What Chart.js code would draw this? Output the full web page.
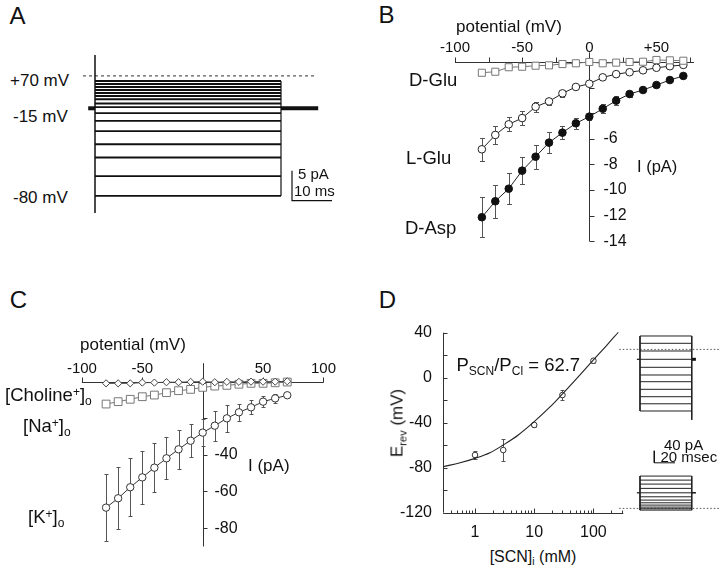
<!DOCTYPE html>
<html>
<head>
<meta charset="utf-8">
<script src="https://cdn.jsdelivr.net/npm/chart.js@4.4.1/dist/chart.umd.min.js"></script>
<style>
  html, body { margin: 0; padding: 0; background: #fff; }
  #fig { position: relative; width: 720px; height: 571px; overflow: hidden;
         font-family: "Liberation Sans", Arial, Helvetica, sans-serif; color: #111; }
  #fig canvas { position: absolute; }
  .t { position: absolute; white-space: nowrap; line-height: 1; }
  .sub { font-size: 65%; position: relative; top: 0.35em; }
  .sup { font-size: 65%; position: relative; top: -0.45em; }
</style>
</head>
<body>
<div id="fig"></div>
<script>
// ---- panel A: current traces (ms, pA), steps -80..+70 mV from -15 mV holding
const aSteps = [-80, -70, -60, -50, -40, -30, -20, -10, 0, 10, 20, 30, 40, 50, 60, 70];
const aLevels = [-14.6, -11.3, -8.2, -6.0, -3.8, -2.1, -0.8, 0.2, 0.8, 1.5, 2.05, 2.55, 3.05, 3.55, 4.05, 4.55];
const aPulseEnd = 46.5;
const aTailEnd = 55.8;
const aDashLevel = 5.4;

// ---- panel B: I-V curves (mV, pA)
const ivPotentials = [-80, -70, -60, -50, -40, -30, -20, -10, 0, 10, 20, 30, 40, 50, 60, 70];
const dGlu = [-0.84, -0.76, -0.41, -0.37, -0.29, -0.26, -0.16, -0.1, 0, -0.1, -0.05, 0, 0.02, 0.16, 0.13, 0.1];
const lGlu = [-6.82, -5.7, -4.87, -4.38, -3.5, -3.08, -2.45, -1.95, -1.7, -1.2, -0.95, -0.8, -0.65, -0.45, -0.33, -0.23];
const lGluErr = [0.9, 0.7, 0.55, 0.57, 0.38, 0.3, 0.28, 0.15, 0.12, 0.1, 0.1, 0.1, 0.1, 0.1, 0.1, 0.1];
const dAsp = [-12.13, -10.88, -9.9, -8.49, -7.4, -6.3, -5.52, -4.79, -4.27, -3.65, -3.02, -2.5, -2.19, -1.8, -1.41, -1.09];
const dAspErr = [1.56, 1.3, 1.22, 1.07, 0.95, 0.8, 0.52, 0.45, 0.26, 0.36, 0.34, 0.2, 0.12, 0.1, 0.1, 0.1];
const bTicksX = [-100, -75, -50, -25, 0, 25, 50, 75];
const bLabelValuesX = [-100, -50, 0, 50];
const bLabelsX = ['-100', '-50', '0', '+50'];
const bTicksY = [-2, -4, -6, -8, -10, -12, -14];
const bLabelValuesY = [-6, -8, -10, -12, -14];
const bLabelsY = ['-6', '-8', '-10', '-12', '-14'];

// ---- panel C: I-V curves in different external cations (mV, pA)
const choline = [-1.0, -1.0, -1.0, -0.6, -0.6, -0.4, -0.4, -0.2, -0.1, -0.4, -0.2, -0.2, -0.1, -0.1, -0.1, 0.1];
const sodium = [-12.3, -11.0, -9.7, -8.3, -7.4, -6.1, -5.0, -4.3, -3.2, -2.5, -2.1, -1.5, -1.0, -1.0, -0.7, -0.3];
const potassium = [-68.8, -63.7, -57.7, -52.3, -47.0, -41.9, -37.0, -32.3, -27.9, -24.1, -20.1, -16.8, -14.1, -11.0, -9.2, -7.5];
const potassiumErr = [18.4, 16.9, 15.9, 14.4, 13.2, 11.5, 10.5, 9.1, 7.5, 8.2, 7.3, 4.5, 3.8, 3.1, 2.4, 0];
const cTicksX = [-100, -50, 0, 50, 100];
const cLabelValuesX = [-100, -50, 50, 100];
const cLabelsX = ['-100', '-50', '50', '100'];
const cTicksY = [-20, -40, -60, -80];
const cLabelValuesY = [-40, -60, -80];
const cLabelsY = ['-40', '-60', '-80'];

// ---- panel D: reversal potential vs internal SCN (mM, mV)
const scnConc = [1, 3, 10, 30, 100];
const erev = [-68.7, -64.3, -42, -15.4, 15.1];
const erevErr = [3.9, 9.8, 2, 4.1, 2];
const fitConc = [0.29, 0.56, 1, 1.79, 3, 5.39, 10, 18.5, 29.8, 59.4, 100, 168, 263];
const fitErev = [-79.1, -75.6, -71.7, -66.7, -59.8, -50.9, -39.1, -26, -14.6, 2.6, 15.8, 28.8, 40.4];
const dTicksY = [-120, -100, -80, -60, -40, -20, 0, 20, 40];
const dLabelValuesY = [40, 0, -40, -80, -120];
const dLabelsY = ['40', '0', '-40', '-80', '-120'];
const dMajorX = [1, 10, 100];
const dMinorX = [0.4, 0.5, 0.6, 0.7, 0.8, 0.9, 2, 3, 4, 5, 6, 7, 8, 9, 20, 30, 40, 50, 60, 70, 80, 90, 200, 300];
const dLabelsX = ['1', '10', '100'];

// ---- panel D inset: example sweeps (ms, pA relative to holding)
const insetTop = [77.7, 53.3, 27.7, 0, -26.7, -52.3, -74.7, -100, -124.7, -148.3, -172.3];
const insetBottom = [55.7, 42.3, 29, 14.7, 0, -13.3, -24.3, -33.3, -41, -47.7, -53.3, -57.7];
const insetSweep = 50;

const FONT = '"Liberation Sans", Arial, Helvetica, sans-serif';
const fig = document.getElementById('fig');

function seg(data, width, color, dash) {
  return { data, borderColor: color || '#111', borderWidth: width || 1, borderDash: dash || [],
           pointRadius: 0, fill: false, tension: 0, clip: false };
}

function series(xs, ys, opts) {
  return Object.assign({
    data: xs.map((x, i) => ({ x, y: ys[i] })),
    borderColor: '#222', borderWidth: 1, pointRadius: 3.8, pointBorderWidth: 1,
    pointBackgroundColor: '#fff', pointBorderColor: '#222', fill: false, tension: 0, clip: false
  }, opts);
}

// axis lines, ticks, tick labels and error bars, all placed through the chart scales
function frame(spec) {
  return {
    id: 'frame',
    beforeDatasetsDraw(chart) {
      const ctx = chart.ctx, xs = chart.scales.x, ys = chart.scales.y;
      const ln = (x1, y1, x2, y2) => { ctx.beginPath(); ctx.moveTo(x1, y1); ctx.lineTo(x2, y2); ctx.stroke(); };
      ctx.save();
      ctx.strokeStyle = '#333'; ctx.fillStyle = '#111'; ctx.lineWidth = 1;
      const a = spec.x;
      if (a) {
        const py = Math.round(ys.getPixelForValue(a.at)) + 0.5;
        ln(xs.getPixelForValue(a.from), py, xs.getPixelForValue(a.to), py);
        a.ticks.forEach(v => { const px = Math.round(xs.getPixelForValue(v)) + 0.5; ln(px, py, px, py + a.tick); });
        (a.minor || []).forEach(v => { const px = Math.round(xs.getPixelForValue(v)) + 0.5; ln(px, py, px, py + a.minorTick); });
        ctx.font = a.font + 'px ' + FONT;
        ctx.textAlign = 'center'; ctx.textBaseline = 'middle';
        a.labels.forEach((v, i) => ctx.fillText(a.text[i], xs.getPixelForValue(v), py + a.dy));
      }
      const b = spec.y;
      if (b) {
        const px = Math.round(xs.getPixelForValue(b.at)) + 0.5;
        ln(px, ys.getPixelForValue(b.from), px, ys.getPixelForValue(b.to));
        b.ticks.forEach(v => { const py = Math.round(ys.getPixelForValue(v)) + 0.5; ln(px, py, px + b.tick, py); });
        ctx.font = b.font + 'px ' + FONT;
        ctx.textAlign = b.align; ctx.textBaseline = 'middle';
        b.labels.forEach((v, i) => ctx.fillText(b.text[i], px + b.dx, ys.getPixelForValue(v)));
      }
      chart.data.datasets.forEach(ds => {
        if (!ds.errors) return;
        ctx.strokeStyle = '#555';
        const cap = ds.cap || 2;
        ds.data.forEach((p, j) => {
          const e = ds.errors[j];
          if (!e) return;
          const x = Math.round(xs.getPixelForValue(p.x)) + 0.5;
          const y1 = Math.round(ys.getPixelForValue(p.y + e)) + 0.5;
          const y2 = Math.round(ys.getPixelForValue(p.y - e)) + 0.5;
          ln(x, y1, x, y2); ln(x - cap, y1, x + cap, y1); ln(x - cap, y2, x + cap, y2);
        });
      });
      ctx.restore();
    }
  };
}

function makeChart(box, xType, xr, yr, datasets, spec) {
  const c = document.createElement('canvas');
  c.width = box[2]; c.height = box[3];
  c.style.left = box[0] + 'px'; c.style.top = box[1] + 'px';
  fig.appendChild(c);
  return new Chart(c, {
    type: 'line',
    data: { datasets },
    options: {
      responsive: false, animation: false, events: [],
      layout: { padding: 0, autoPadding: false },
      plugins: { legend: { display: false }, tooltip: { enabled: false } },
      scales: {
        x: { type: xType, min: xr[0], max: xr[1], display: false },
        y: { type: 'linear', min: yr[0], max: yr[1], display: false }
      }
    },
    plugins: [frame(spec || {})]
  });
}

function T(html, x, y, size, anchor, extra) {
  const d = document.createElement('div');
  d.className = 't';
  d.innerHTML = html;
  d.style.fontSize = size + 'px';
  d.style.left = x + 'px';
  d.style.top = y + 'px';
  const tx = anchor === 'c' ? '-50%' : anchor === 'r' ? '-100%' : '0';
  d.style.transform = 'translate(' + tx + ',-50%)' + (extra || '');
  fig.appendChild(d);
}

// ---------- A
const aSets = aLevels.map(v => seg([{ x: 0, y: v }, { x: aPulseEnd, y: v }], 1.9, '#111'));
aSets.push(seg([{ x: -1.7, y: 0 }, { x: 0, y: 0 }], 4, '#111'));
aSets.push(seg([{ x: aPulseEnd, y: 0 }, { x: aTailEnd, y: 0 }], 4, '#111'));
aSets.push(seg([{ x: 0, y: 8.9 }, { x: 0, y: -17.45 }], 1.5, '#111'));
aSets.push(seg([{ x: aPulseEnd, y: aLevels[aLevels.length - 1] }, { x: aPulseEnd, y: aLevels[0] }], 1.2, '#111'));
aSets.push(seg([{ x: -3, y: aDashLevel }, { x: 55.4, y: aDashLevel }], 1, '#333', [3, 3]));
aSets.push(seg([{ x: 49.25, y: -10.4 }, { x: 49.25, y: -15.4 }, { x: 59.25, y: -15.4 }], 1.2, '#111'));
makeChart([80, 50, 260, 170], 'linear', [-3.75, 61.25], [-18.617, 9.717], aSets);

// ---------- B
makeChart([380, 30, 340, 230], 'linear', [-155.85, 97.32], [-15.47, 2.5], [
  series(ivPotentials, dGlu, { pointStyle: 'rect', pointRadius: 5, borderColor: '#777', pointBorderColor: '#777' }),
  series(ivPotentials, lGlu, { errors: lGluErr, cap: 2.5 }),
  series(ivPotentials, dAsp, { errors: dAspErr, cap: 2.5, pointBackgroundColor: '#111', pointBorderColor: '#111' })
], {
  x: { at: 0, from: -100, to: 78, ticks: bTicksX, tick: -5, labels: bLabelValuesX, text: bLabelsX, dy: -15, font: 15 },
  y: { at: 0, from: 0.75, to: -14, ticks: bTicksY, tick: 5, labels: bLabelValuesY, text: bLabelsY, dx: 14, align: 'left', font: 16 }
});

// ---------- C
makeChart([40, 340, 300, 215], 'linear', [-134.69, 113.66], [-94.65, 22.64], [
  series(ivPotentials, choline, { pointStyle: 'rectRot', pointRadius: 3.6, borderColor: '#444', pointBorderColor: '#444' }),
  series(ivPotentials, sodium, { pointStyle: 'rect', pointRadius: 5.5, borderColor: '#777', pointBorderColor: '#777' }),
  series(ivPotentials, potassium, { errors: potassiumErr, cap: 2, pointRadius: 3.7, borderColor: '#333', pointBorderColor: '#333' })
], {
  x: { at: 0, from: -100, to: 100, ticks: cTicksX, tick: -5, labels: cLabelValuesX, text: cLabelsX, dy: -14, font: 15 },
  y: { at: 0, from: 10, to: -90, ticks: cTicksY, tick: 4, labels: cLabelValuesY, text: cLabelsY, dx: 11, align: 'left', font: 16 }
});

// ---------- D
makeChart([395, 320, 235, 225], 'logarithmic', [0.04454, 415], [-148.7, 51.29], [
  Object.assign(seg(fitConc.map((x, i) => ({ x, y: fitErev[i] })), 1.1, '#222'), { tension: 0.35 }),
  series(scnConc, erev, { showLine: false, pointRadius: 2.8, errors: erevErr, cap: 2, pointBorderColor: '#333' })
], {
  x: { at: -120, from: 0.2917, to: 320, ticks: dMajorX, tick: -5, minor: dMinorX, minorTick: -3,
       labels: dMajorX, text: dLabelsX, dy: 19, font: 16 },
  y: { at: 0.2917, from: -120, to: 40, ticks: dTicksY, tick: 4, labels: dLabelValuesY, text: dLabelsY, dx: -11.5, align: 'right', font: 16 }
});

// ---------- D inset
const bottomBase = -445;
const inSets = [];
insetTop.forEach(v => inSets.push(seg([{ x: 0, y: v }, { x: insetSweep, y: v }], 1, '#222')));
insetBottom.forEach(v => inSets.push(seg([{ x: 0, y: bottomBase + v }, { x: insetSweep, y: bottomBase + v }], 1, '#222')));
inSets.push(seg([{ x: 0, y: insetTop[0] }, { x: 0, y: insetTop[insetTop.length - 1] }], 1, '#222'));
inSets.push(seg([{ x: insetSweep, y: insetTop[0] }, { x: insetSweep, y: -202 }], 1, '#222'));
inSets.push(seg([{ x: 0, y: bottomBase + insetBottom[0] }, { x: 0, y: bottomBase + insetBottom[insetBottom.length - 1] }], 1, '#222'));
inSets.push(seg([{ x: insetSweep, y: bottomBase + insetBottom[0] }, { x: insetSweep, y: bottomBase + insetBottom[insetBottom.length - 1] }], 1, '#222'));
inSets.push(seg([{ x: insetSweep, y: 0 }, { x: insetSweep + 4, y: 0 }], 3, '#111'));
inSets.push(seg([{ x: -3, y: 0 }, { x: 0, y: 0 }], 1.2, '#111'));
inSets.push(seg([{ x: insetSweep, y: bottomBase }, { x: insetSweep + 4, y: bottomBase }], 1.5, '#111'));
inSets.push(seg([{ x: -3, y: bottomBase }, { x: 0, y: bottomBase }], 1.2, '#111'));
inSets.push(seg([{ x: -20, y: 33 }, { x: 77, y: 33 }], 1, '#555', [1.5, 2]));
inSets.push(seg([{ x: -20, y: bottomBase - 52 }, { x: 77, y: bottomBase - 52 }], 1, '#555', [1.5, 2]));
inSets.push(seg([{ x: 13.8, y: -305 }, { x: 13.8, y: -345 }, { x: 33.8, y: -345 }], 1, '#111'));
makeChart([615, 330, 105, 190], 'linear', [-24.15, 77.29], [-535.67, 97.67], inSets);

// ---------- text
T('A', 17.5, 16, 24, 'c');
T('+70 mV', 10, 80, 17, 'l');
T('-15 mV', 13, 116, 17, 'l');
T('-80 mV', 13, 197, 17, 'l');
T('5 pA', 298, 173, 15, 'l');
T('10 ms', 294, 189.5, 15, 'l');

T('B', 386.5, 15, 24, 'c');
T('potential (mV)', 456, 26, 17, 'l');
T('D-Glu', 409, 80, 18.5, 'l');
T('L-Glu', 406, 158, 18.5, 'l');
T('D-Asp', 405, 228, 18.5, 'l');
T('I (pA)', 637, 166, 16.5, 'l');

T('C', 18.5, 300, 24, 'c');
T('potential (mV)', 80, 343.5, 17, 'l');
T('[Choline<span class="sup">+</span>]<span class="sub">o</span>', 5, 395, 18.5, 'l');
T('[Na<span class="sup">+</span>]<span class="sub">o</span>', 23, 426, 18.5, 'l');
T('[K<span class="sup">+</span>]<span class="sub">o</span>', 28, 517, 18.5, 'l');
T('I (pA)', 248, 465, 17, 'l');

T('D', 387.5, 300, 24, 'c');
T('E<span class="sub">rev</span> (mV)', 397, 423, 17, 'c', ' rotate(-90deg)');
T('[SCN]<span class="sub">i</span> (mM)', 533, 556.5, 16, 'c');
T('P<span class="sub">SCN</span>/P<span class="sub">Cl</span> = 62.7', 456.5, 365, 18.5, 'l');
T('40 pA', 664, 443.5, 15, 'l');
T('20 msec', 660.5, 456, 15, 'l');
</script>
</body>
</html>
